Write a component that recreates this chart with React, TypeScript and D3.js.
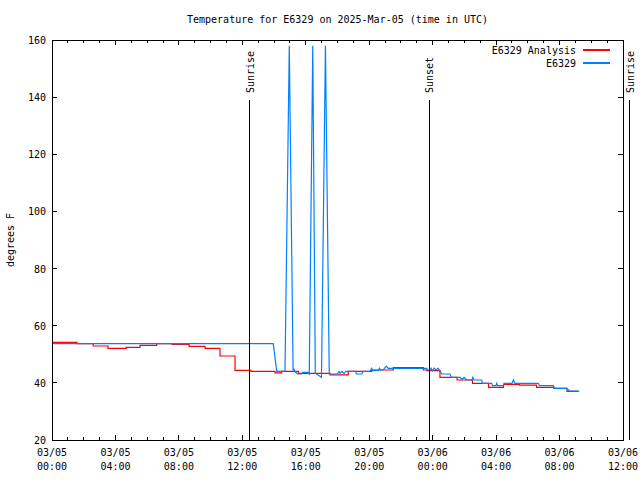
import React from "react";
import * as d3 from "d3";

// Hours since 2025-03-05 00:00 UTC
const analysisHours = [0, 1.58, 2.6, 3.53, 4.67, 5.55, 6.6, 7.57, 8.64, 9.65, 10.59, 11.54, 12.55, 14.06, 14.48, 15.53, 17.53, 18.68, 20.16, 21.52, 23.41, 23.63, 24.46, 25.54, 26.51, 27.52, 28.47, 29.46, 30.55, 31.65, 32.47, 33.17];
const analysisTemps = [54.2, 53.7, 52.9, 52.1, 52.4, 53.1, 53.7, 53.5, 52.8, 52.1, 49.4, 44.4, 44.0, 43.5, 44.0, 43.3, 42.8, 44.0, 44.5, 45.3, 44.5, 44.3, 41.9, 41.0, 39.8, 38.4, 39.5, 39.2, 38.4, 38.1, 37.0, 37.0];

const obsHours = [0, 13.95, 14.17, 14.69, 14.96, 15.2, 15.26, 15.32, 15.47, 15.74, 15.79, 16.14, 16.22, 16.44, 16.6, 16.71, 16.99, 17.24, 17.48, 17.99, 18.1, 18.16, 18.28, 18.41, 18.54, 19.15, 19.19, 19.53, 19.61, 20.05, 20.15, 20.21, 20.57, 20.65, 20.71, 20.89, 21.0, 21.09, 21.2, 23.63, 23.66, 23.83, 23.9, 23.99, 24.09, 24.21, 24.34, 24.46, 24.57, 25.09, 25.18, 25.73, 25.85, 25.98, 26.15, 26.48, 26.53, 26.61, 27.09, 27.14, 27.72, 27.77, 27.99, 28.04, 28.09, 28.46, 28.5, 29.0, 29.09, 29.19, 30.66, 30.74, 31.61, 31.65, 32.45, 32.66, 33.25];
const obsTemps = [53.7, 53.7, 44.0, 44.0, 158, 44.5, 44.8, 44.0, 43.1, 43.1, 43.7, 43.7, 43.1, 158, 43.3, 43.0, 41.9, 158, 43.1, 43.1, 44.0, 43.3, 44.0, 43.3, 44.0, 44.0, 43.1, 43.1, 44.0, 44.0, 45.1, 44.4, 44.4, 45.1, 44.5, 44.5, 45.4, 45.8, 45.1, 45.1, 44.5, 44.5, 45.1, 44.2, 45.1, 44.5, 45.1, 44.3, 43.1, 43.1, 41.9, 41.9, 41.2, 41.9, 41.0, 41.0, 41.9, 41.0, 41.0, 39.8, 39.8, 39.0, 39.0, 39.8, 39.0, 39.0, 39.8, 39.8, 41.0, 39.8, 39.8, 39.0, 39.0, 38.1, 38.1, 37.1, 37.1];

const eventLabels = ["Sunrise", "Sunset", "Sunrise"];
const eventHours = [12.47, 23.77, 36.43];

const yTicks = [20, 40, 60, 80, 100, 120, 140, 160];
const xMajorTicks = [0, 4, 8, 12, 16, 20, 24, 28, 32, 36];

const seriesNames = ["E6329 Analysis", "E6329"];
const seriesColors = ["#ff0000", "#0080ff"];

const FONT = "'DejaVu Sans Mono', 'Liberation Mono', monospace";

export default function App() {
  const W = 640, H = 480;
  const left = 52, right = 623, top = 40, bottom = 440;
  const x = d3.scaleLinear().domain([0, 36]).range([left, right]);
  const y = d3.scaleLinear().domain([20, 160]).range([bottom, top]);
  const base = Date.UTC(2025, 2, 5);
  const fmtD = d3.utcFormat("%m/%d");
  const fmtT = d3.utcFormat("%H:%M");

  const analysisLine = d3
    .line<number>()
    .x((_, i) => x(analysisHours[i]))
    .y((d) => y(d))
    .curve(d3.curveStepAfter);
  const obsLine = d3
    .line<number>()
    .x((_, i) => x(obsHours[i]))
    .y((d) => y(d));

  const minorTicks = d3.range(0, 37, 1).filter((h) => h % 4 !== 0);

  return (
    <svg width={W} height={H} style={{ display: "block", position: "absolute", left: 0, top: 0 }} fontFamily={FONT} fontSize={10}>
      <rect x={0} y={0} width={W} height={H} fill="#fff" />
      <defs>
        <clipPath id="plot">
          <rect x={left} y={top} width={right - left} height={bottom - top} />
        </clipPath>
      </defs>
      <text x={(left + right) / 2} y={23} textAnchor="middle">
        Temperature for E6329 on 2025-Mar-05 (time in UTC)
      </text>
      <text transform={`translate(14,${(top + bottom) / 2}) rotate(-90)`} textAnchor="middle">
        degrees F
      </text>
      {yTicks.map((v) => (
        <g key={"y" + v} shapeRendering="crispEdges">
          <line x1={left} x2={left + 5} y1={y(v)} y2={y(v)} stroke="#000" />
          <line x1={right - 5} x2={right} y1={y(v)} y2={y(v)} stroke="#000" />
          <text x={left - 6} y={y(v) + 4} textAnchor="end">{v}</text>
        </g>
      ))}
      {minorTicks.map((h) => (
        <g key={"m" + h} shapeRendering="crispEdges">
          <line x1={x(h)} x2={x(h)} y1={bottom} y2={bottom - 3} stroke="#000" />
          <line x1={x(h)} x2={x(h)} y1={top} y2={top + 3} stroke="#000" />
        </g>
      ))}
      {xMajorTicks.map((h) => {
        const d = new Date(base + h * 3600 * 1000);
        return (
          <g key={"x" + h} shapeRendering="crispEdges">
            <line x1={x(h)} x2={x(h)} y1={bottom} y2={bottom - 5} stroke="#000" />
            <line x1={x(h)} x2={x(h)} y1={top} y2={top + 5} stroke="#000" />
            <text x={x(h)} y={456} textAnchor="middle">{fmtD(d)}</text>
            <text x={x(h)} y={470} textAnchor="middle">{fmtT(d)}</text>
          </g>
        );
      })}
      <g clipPath="url(#plot)">
        <path d={analysisLine(analysisTemps) || ""} fill="none" stroke={seriesColors[0]} strokeWidth={1.2} />
        <path d={obsLine(obsTemps) || ""} fill="none" stroke={seriesColors[1]} strokeWidth={1.2} />
      </g>
      {eventHours.map((h, i) => (
        <g key={"e" + i}>
          <line x1={x(h)} x2={x(h)} y1={y(20)} y2={y(139)} stroke="#000" shapeRendering="crispEdges" />
          <text transform={`translate(${x(h) + 4},${y(139) - 7}) rotate(-90)`} textAnchor="start">
            {eventLabels[i]}
          </text>
        </g>
      ))}
      {seriesNames.map((n, i) => (
        <g key={"l" + i}>
          <text x={576} y={54 + i * 13} textAnchor="end">{n}</text>
          <line x1={583} x2={610} y1={50 + i * 13} y2={50 + i * 13} stroke={seriesColors[i]} strokeWidth={1.2} shapeRendering="crispEdges" />
        </g>
      ))}
      <rect x={left} y={top} width={right - left} height={bottom - top} fill="none" stroke="#000" shapeRendering="crispEdges" />
    </svg>
  );
}
